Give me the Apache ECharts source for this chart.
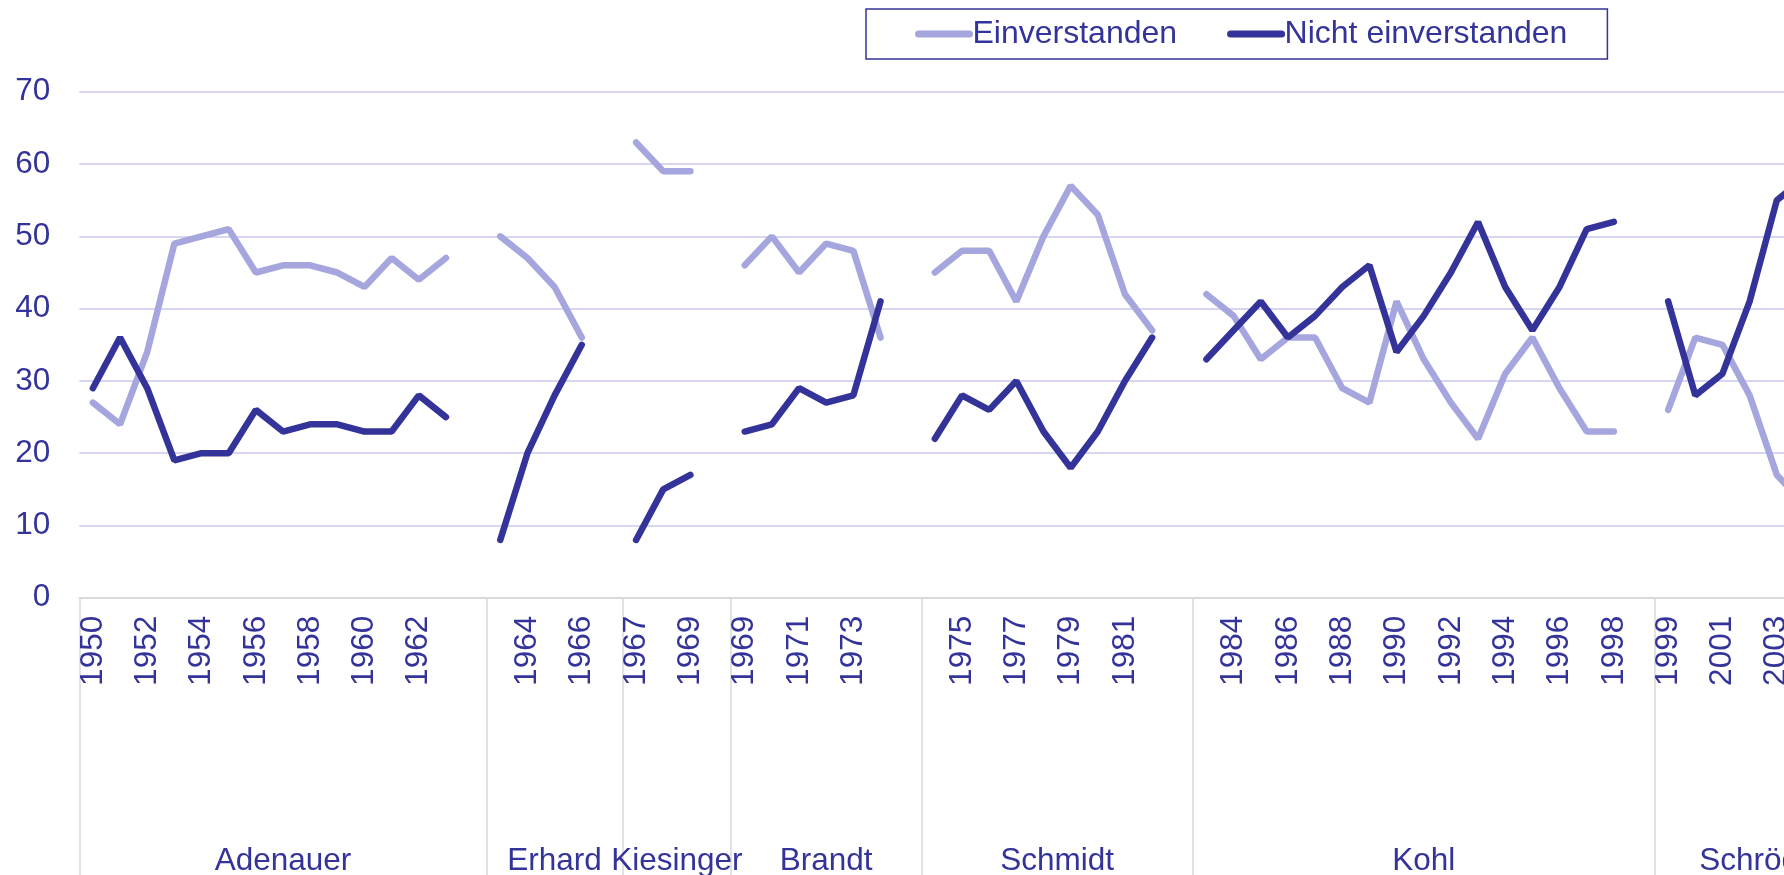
<!DOCTYPE html>
<html>
<head>
<meta charset="utf-8">
<script src="https://cdn.jsdelivr.net/npm/echarts@6/dist/echarts.min.js"></script>
<style>
  html, body { margin: 0; padding: 0; background: #fff; }
  #chart { width: 1784px; height: 875px; }
</style>
</head>
<body>
<div id="chart"></div>
<script>
  // Kanzler und ihre Jahre (jede Gruppe endet mit einer leeren Kategorie)
  const kanzler = ['Adenauer', 'Erhard', 'Kiesinger', 'Brandt', 'Schmidt', 'Kohl', 'Schröder'];
  const jahre = [
    ['1950', '1951', '1952', '1953', '1954', '1955', '1956', '1957', '1958', '1959', '1960', '1961', '1962', '1963'],
    ['1963', '1964', '1965', '1966'],
    ['1967', '1968', '1969'],
    ['1969', '1970', '1971', '1972', '1973', '1974'],
    ['1974', '1975', '1976', '1977', '1978', '1979', '1980', '1981', '1982'],
    ['1983', '1984', '1985', '1986', '1987', '1988', '1989', '1990', '1991', '1992', '1993', '1994', '1995', '1996', '1997', '1998'],
    ['1999', '2000', '2001', '2002', '2003', '2004', '2005']
  ];
  const einverstanden = [
    [27, 24, 34, 49, 50, 51, 45, 46, 46, 45, 43, 47, 44, 47],
    [50, 47, 43, 36],
    [63, 59, 59],
    [46, 50, 45, 49, 48, 36],
    [45, 48, 48, 41, 50, 57, 53, 42, 37],
    [42, 39, 33, 36, 36, 29, 27, 41, 33, 27, 22, 31, 36, 29, 23, 23],
    [26, 36, 35, 28, 17, 13, null]
  ];
  const nichtEinverstanden = [
    [29, 36, 29, 19, 20, 20, 26, 23, 24, 24, 23, 23, 28, 25],
    [8, 20, 28, 35],
    [8, 15, 17],
    [23, 24, 29, 27, 28, 41],
    [22, 28, 26, 30, 23, 18, 23, 30, 36],
    [33, 37, 41, 36, 39, 43, 46, 34, 39, 45, 52, 43, 37, 43, 51, 52],
    [41, 28, 31, 41, 55, 58, null]
  ];
  const yTicks = [0, 10, 20, 30, 40, 50, 60, 70];

  const TEXT = '#333399';
  const FONT = 'Liberation Sans, Arial, sans-serif';

  // flache Listen bauen, Gruppen durch eine Leerkategorie getrennt
  const kategorien = [];
  const serieA = [];
  const serieB = [];
  const grenzen = [];
  const mitten = {};
  jahre.forEach((js, g) => {
    const start = kategorien.length;
    grenzen.push(start - 0.5);
    js.forEach((j, k) => {
      kategorien.push(j);
      serieA.push(einverstanden[g][k]);
      serieB.push(nichtEinverstanden[g][k]);
    });
    kategorien.push('');
    serieA.push(null);
    serieB.push(null);
    const mitte = start + (js.length + 1) / 2 - 0.5;
    mitten[mitte] = kanzler[g];
  });
  grenzen.push(kategorien.length - 0.5);

  const catWidth = 27.16;
  const chart = echarts.init(document.getElementById('chart'));

  const option = {
    animation: false,
    backgroundColor: '#fff',
    legend: {
      left: 866,
      top: 9,
      padding: [9, 40, 9, 49],
      itemGap: 50,
      itemWidth: 51,
      itemHeight: 14,
      borderColor: TEXT,
      borderWidth: 1.5,
      itemStyle: { opacity: 0 },
      lineStyle: { width: 7, cap: 'round' },
      textStyle: { color: TEXT, fontSize: 32, fontFamily: FONT, padding: [0, 0, 0, -2] },
      data: ['Einverstanden', 'Nicht einverstanden']
    },
    grid: {
      left: 79.3,
      top: 91.8,
      height: 506,
      width: catWidth * kategorien.length,
      outerBoundsMode: 'none',
      containLabel: false
    },
    xAxis: [
      {
        type: 'category',
        data: kategorien,
        axisLine: { lineStyle: { color: '#d9d9d9', width: 2 } },
        axisTick: { show: false },
        axisLabel: {
          interval: 1,
          rotate: 90,
          margin: 18,
          color: TEXT,
          fontSize: 31.5,
          fontFamily: FONT
        },
        splitLine: { show: false }
      },
      {
        type: 'value',
        position: 'bottom',
        min: -0.5,
        max: kategorien.length - 0.5,
        axisLine: { show: false },
        splitLine: { show: false },
        axisTick: {
          show: true,
          customValues: grenzen,
          length: 280,
          lineStyle: { color: '#d9d9d9', width: 1.5 }
        },
        axisLabel: {
          customValues: Object.keys(mitten).map(Number),
          formatter: (v) => mitten[v] || '',
          margin: 264,
          verticalAlign: 'middle',
          color: TEXT,
          fontSize: 31.5,
          fontFamily: FONT
        }
      }
    ],
    yAxis: {
      type: 'value',
      min: yTicks[0],
      max: yTicks[yTicks.length - 1],
      interval: 10,
      axisLine: { show: false },
      axisTick: { show: false },
      axisLabel: { color: TEXT, fontSize: 31.5, fontFamily: FONT, margin: 29 },
      splitLine: { lineStyle: { color: '#d6d6f2', width: 2 } }
    },
    series: [
      {
        name: 'Einverstanden',
        type: 'line',
        data: serieA,
        symbol: 'none',
        connectNulls: false,
        color: '#a6a6df',
        lineStyle: { width: 6.5, color: '#a6a6df', cap: 'round' }
      },
      {
        name: 'Nicht einverstanden',
        type: 'line',
        data: serieB,
        symbol: 'none',
        connectNulls: false,
        color: '#333399',
        lineStyle: { width: 6.5, color: '#333399', cap: 'round' }
      }
    ]
  };

  chart.setOption(option);
</script>
</body>
</html>
